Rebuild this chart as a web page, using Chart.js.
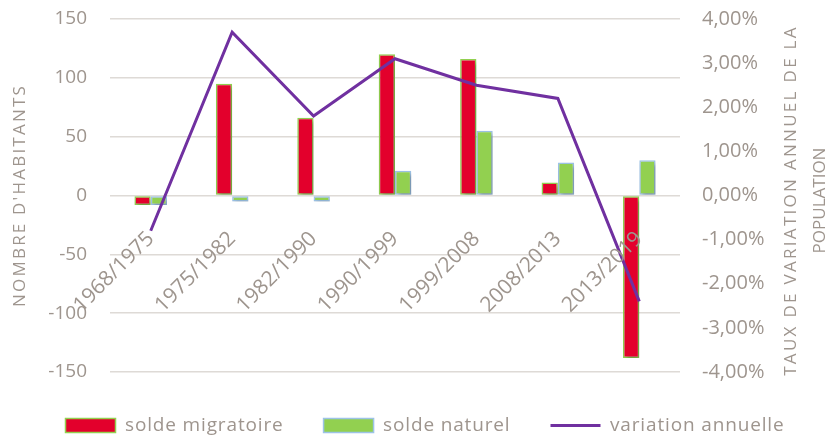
<!DOCTYPE html>
<html>
<head>
<meta charset="utf-8">
<script src="https://cdn.jsdelivr.net/npm/chart.js@4/dist/chart.umd.min.js"></script>
<style>
  html, body { margin: 0; padding: 0; background: #fff; }
  #wrap { width: 831px; height: 436px; }
</style>
</head>
<body>
<div id="wrap"><canvas id="chart" width="831" height="436"></canvas></div>
<script>
const periods = ['1968/1975', '1975/1982', '1982/1990', '1990/1999', '1999/2008', '2008/2013', '2013/2019'];
const soldeMigratoire = [-8, 95, 66, 120, 116, 11, -138];
const soldeNaturel = [-8, -5, -5, 21, 55, 28, 30];
const variationAnnuelle = [-0.8, 3.7, 1.8, 3.1, 2.5, 2.2, -2.4]; // en %
const leftTicks = [-150, 150, 50];
const rightTicks = [-4, 4, 1];

const textColor = '#9E958E';
const fontFamily = '"Open Sans", sans-serif';

// ombre légère sous les barres, comme dans Excel
const barShadow = {
    id: 'barShadow',
    beforeDatasetDraw(chart, args) {
        if (args.meta.type !== 'bar') return;
        const ctx = chart.ctx;
        ctx.save();
        ctx.shadowColor = 'rgba(0,0,0,0.28)';
        ctx.shadowBlur = 4;
        ctx.shadowOffsetX = 2;
        ctx.shadowOffsetY = 3;
    },
    afterDatasetDraw(chart, args) {
        if (args.meta.type !== 'bar') return;
        chart.ctx.restore();
    }
};

// titres des axes, lus de bas en haut
const axisTitles = {
    id: 'axisTitles',
    afterDraw(chart) {
        const ctx = chart.ctx;
        const cy = (chart.chartArea.top + chart.chartArea.bottom) / 2;
        const lines = [
            ["NOMBRE D'HABITANTS", 20, cy, '2.2px'],
            ['TAUX DE VARIATION ANNUEL DE LA', 791, cy + 5, '2.3px'],
            ['POPULATION', 820, cy + 5, '0px']
        ];
        ctx.save();
        ctx.fillStyle = textColor;
        ctx.font = '17px ' + fontFamily;
        ctx.textAlign = 'center';
        ctx.textBaseline = 'middle';
        lines.forEach(([t, x, y, ls]) => {
            ctx.save();
            ctx.letterSpacing = ls;
            ctx.translate(x, y);
            ctx.rotate(-Math.PI / 2);
            ctx.fillText(t, 0, 0);
            ctx.restore();
        });
        ctx.restore();
    }
};

// légende : hauteur fixe, texte un peu plus espacé
const legendTweak = {
    id: 'legendTweak',
    afterInit(chart) {
        const legend = chart.legend;
        const ctx = chart.ctx;
        const fit = legend.fit;
        const draw = legend.draw;
        legend.fit = function() {
            ctx.save();
            ctx.letterSpacing = '0.85px';
            fit.call(this);
            ctx.restore();
            this.height = 64;
        };
        legend.draw = function() {
            ctx.save();
            ctx.letterSpacing = '0.85px';
            ctx.translate(0, 4);
            draw.call(this);
            ctx.restore();
        };
    }
};

// pas de marge supplémentaire due au padding des graduations
function noTickPadding(scale) {
    scale.paddingTop = 0;
    scale.paddingBottom = 0;
}

new Chart(document.getElementById('chart'), {
    data: {
        labels: periods,
        datasets: [
            {
                type: 'bar',
                label: 'solde migratoire',
                data: soldeMigratoire,
                backgroundColor: '#E3002C',
                borderColor: '#92D050',
                borderWidth: 1.5,
                borderSkipped: false,
                categoryPercentage: 0.4,
                barPercentage: 1,
                order: 1,
                yAxisID: 'y'
            },
            {
                type: 'bar',
                label: 'solde naturel',
                data: soldeNaturel,
                backgroundColor: '#92D050',
                borderColor: '#9DC3E6',
                borderWidth: 1.5,
                borderSkipped: false,
                categoryPercentage: 0.4,
                barPercentage: 1,
                order: 2,
                yAxisID: 'y'
            },
            {
                type: 'line',
                label: 'variation annuelle',
                data: variationAnnuelle,
                borderColor: '#7030A0',
                backgroundColor: '#7030A0',
                borderWidth: 3,
                pointRadius: 0,
                tension: 0,
                order: 0,
                yAxisID: 'y1'
            }
        ]
    },
    options: {
        responsive: false,
        animation: false,
        devicePixelRatio: 1,
        layout: { padding: { top: 19, left: 19, right: 0, bottom: 0 } },
        scales: {
            x: {
                position: { y: 0 },
                afterFit(scale) { scale.height = 0; },
                grid: { display: false },
                border: { display: false },
                ticks: {
                    z: 1,
                    color: textColor,
                    font: { family: fontFamily, size: 21 },
                    minRotation: 45,
                    maxRotation: 45,
                    padding: 23
                }
            },
            y: {
                position: 'left',
                min: leftTicks[0],
                max: leftTicks[1],
                afterFit(scale) { scale.width = 91; noTickPadding(scale); },
                grid: { color: '#DEDAD6', lineWidth: 1.5, drawTicks: false },
                border: { display: false },
                ticks: {
                    stepSize: leftTicks[2],
                    color: textColor,
                    font: { family: fontFamily, size: 19 },
                    padding: 23
                }
            },
            y1: {
                position: 'right',
                min: rightTicks[0],
                max: rightTicks[1],
                afterFit(scale) { scale.width = 151; noTickPadding(scale); },
                grid: { display: false, drawTicks: false },
                border: { display: false },
                ticks: {
                    stepSize: rightTicks[2],
                    color: textColor,
                    font: { family: fontFamily, size: 20 },
                    padding: 22,
                    callback: v => v.toFixed(2).replace('.', ',') + '%'
                }
            }
        },
        plugins: {
            tooltip: { enabled: false },
            legend: {
                position: 'bottom',
                labels: {
                    color: textColor,
                    font: { family: fontFamily, size: 19 },
                    usePointStyle: true,
                    pointStyleWidth: 50,
                    boxHeight: 14,
                    padding: 40,
                    sort: (a, b) => a.datasetIndex - b.datasetIndex,
                    generateLabels(chart) {
                        const items = Chart.defaults.plugins.legend.labels.generateLabels(chart);
                        items.forEach(it => {
                            const ds = chart.data.datasets[it.datasetIndex];
                            it.pointStyle = ds.type === 'line' ? 'line' : 'rect';
                            it.lineWidth = ds.type === 'line' ? 3 : 1.5;
                        });
                        return items;
                    }
                }
            }
        }
    },
    plugins: [barShadow, axisTitles, legendTweak]
});
</script>
</body>
</html>
